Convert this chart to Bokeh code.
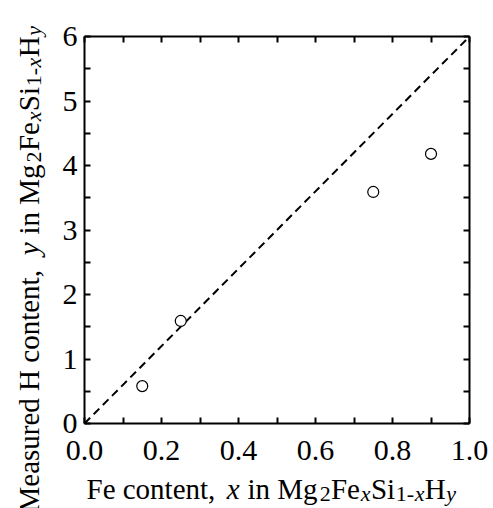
import math
from bokeh.plotting import figure
from bokeh.models import (Range1d, LinearAxis, FixedTicker, Label,
                          PrintfTickFormatter, CustomJSTickFormatter)
from bokeh.embed import file_html
from bokeh.resources import INLINE

# ---- data ----
fe_x = [0.15, 0.25, 0.75, 0.90]
h_y = [0.58, 1.59, 3.59, 4.18]
ideal_x = [0.0, 1.0]
ideal_y = [0.0, 6.0]
x_major = [0.0, 0.2, 0.4, 0.6, 0.8, 1.0]
x_minor = [0.1, 0.3, 0.5, 0.7, 0.9]
y_major = [0, 1, 2, 3, 4, 5, 6]
y_minor = [0.5, 1.5, 2.5, 3.5, 4.5, 5.5]

x_label_parts = [("Fe content, ", False, False), ("x", True, False), (" in Mg", False, False),
                 ("2", False, True), ("Fe", False, False), ("x", True, True), ("Si", False, False),
                 ("1-", False, True), ("x", True, True), ("H", False, False), ("y", True, True)]
y_label_parts = [("Measured H content, ", False, False), ("y", True, False), (" in Mg", False, False),
                 ("2", False, True), ("Fe", False, False), ("x", True, True), ("Si", False, False),
                 ("1-", False, True), ("x", True, True), ("H", False, False), ("y", True, True)]

# ---- geometry (pixels of the plotting box inside the 493x508 canvas) ----
W, H = 493, 508
L, R, T, B = 84, 469, 36, 423
FONT = "Liberation Serif"
MAIN, SUB = 29, 22
X0, X1 = 0.0, 1.0
Y0, Y1 = 0.0, 6.0
xpp = (X1 - X0) / (R - L)   # data per pixel
ypp = (Y1 - Y0) / (B - T)

# the frame fills the whole canvas; the axes are pinned to the box edges
p = figure(width=W, height=H, output_backend="svg", toolbar_location=None,
           x_range=Range1d(X0 - L * xpp, X1 + (W - R) * xpp),
           y_range=Range1d(Y0 - (H - B) * ypp, Y1 + T * ypp),
           x_axis_type=None, y_axis_type=None,
           min_border_left=0, min_border_right=0, min_border_top=0, min_border_bottom=0)
p.outline_line_color = None
p.xgrid.visible = False
p.ygrid.visible = False
p.background_fill_color = "white"
p.border_fill_color = "white"


def style_axis(ax, show_labels):
    ax.axis_line_width = 2
    ax.axis_line_color = "black"
    ax.major_tick_in = 6
    ax.major_tick_out = 0
    ax.minor_tick_in = 6
    ax.minor_tick_out = 0
    ax.major_tick_line_width = 2
    ax.minor_tick_line_width = 2
    ax.major_tick_line_color = "black"
    ax.minor_tick_line_color = "black"
    ax.major_label_text_font = FONT
    ax.major_label_text_color = "black"
    ax.major_label_text_font_size = "30px"
    if not show_labels:
        ax.formatter = CustomJSTickFormatter(code="return '';")
        ax.major_label_standoff = 0


xb = LinearAxis(ticker=FixedTicker(ticks=x_major, minor_ticks=x_minor),
                formatter=PrintfTickFormatter(format="%.1f"),
                fixed_location=Y0, bounds=(X0, X1))
style_axis(xb, True)
xb.major_label_standoff = 17
xt = LinearAxis(ticker=FixedTicker(ticks=x_major, minor_ticks=x_minor),
                fixed_location=Y1, bounds=(X0, X1))
style_axis(xt, False)
yl = LinearAxis(ticker=FixedTicker(ticks=y_major, minor_ticks=y_minor),
                formatter=PrintfTickFormatter(format="%d"),
                fixed_location=X0, bounds=(Y0, Y1))
style_axis(yl, True)
yl.major_label_standoff = 7
yr = LinearAxis(ticker=FixedTicker(ticks=y_major, minor_ticks=y_minor),
                fixed_location=X1, bounds=(Y0, Y1))
style_axis(yr, False)
p.add_layout(xb, "below")
p.add_layout(xt, "above")
p.add_layout(yl, "left")
p.add_layout(yr, "right")

p.line(ideal_x, ideal_y, line_color="black", line_width=2, line_dash="8 5")
p.scatter(fe_x, h_y, marker="circle", size=11, fill_color="white",
          line_color="black", line_width=1.2)

# ---- axis titles built from pieces (subscripts) ----
ADV = {" ": 250, "F": 556, "e": 444, "c": 444, "o": 500, "n": 500, "t": 278, ",": 250,
       "x": 444, "y": 444, "i": 278, "M": 889, "g": 500, "2": 500, "S": 556, "1": 500,
       "-": 333, "H": 722, "a": 444, "s": 389, "u": 500, "r": 333, "d": 500}


def adv(s, size):
    return sum(ADV.get(c, 500) for c in s) * size / 1000.0


def layout(parts, start, k):
    pos = start
    out = []
    for txt, ital, sub in parts:
        size = SUB if sub else MAIN
        lead = len(txt) - len(txt.lstrip(" "))
        pos += adv(" " * lead, size) * k
        core = txt.strip(" ")
        out.append((core, ital, sub, size, pos))
        pos += adv(core, size) * k
        trail = len(txt) - len(txt.rstrip(" "))
        pos += adv(" " * trail, size) * k
    return out


def add_piece(px, py, core, ital, size, angle):
    p.add_layout(Label(x=X0 + (px - L) * xpp, y=Y0 + (B - py) * ypp, text=core, angle=angle,
                       text_font=FONT, text_font_size=f"{size}px",
                       text_font_style="italic" if ital else "normal",
                       text_color="black", text_align="left", text_baseline="alphabetic"))


# x title: reads left to right
for core, ital, sub, size, pos in layout(x_label_parts, 86, 1.03):
    add_piece(pos, 488 + (5 if sub else 0), core, ital, size, 0.0)

# y title: rotated, reads bottom to top
for core, ital, sub, size, pos in layout(y_label_parts, 0, 1.03):
    add_piece(28 + (5 if sub else 0), 512 - pos, core, ital, size, math.pi / 2)

open("out.html", "w").write(file_html(p, INLINE))
